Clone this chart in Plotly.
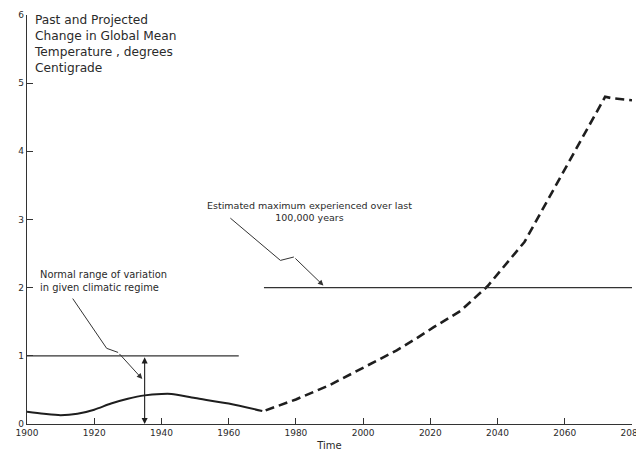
import plotly.graph_objects as go

# ---- data ----
past_years = [1900, 1905, 1910, 1915, 1920, 1925, 1930, 1935, 1940, 1943, 1950, 1960, 1970]
past_temp = [0.18, 0.15, 0.13, 0.15, 0.21, 0.30, 0.37, 0.42, 0.44, 0.44, 0.38, 0.30, 0.19]

proj_years = [1971, 1980, 1990, 2000, 2010, 2016, 2021, 2029, 2037, 2048, 2072, 2074, 2080]
proj_temp = [0.20, 0.36, 0.57, 0.83, 1.08, 1.26, 1.42, 1.66, 2.02, 2.67, 4.80, 4.78, 4.75]

normal_range_years = [1900, 1963]
normal_range_level = [1, 1]
max_100k_years = [1970.5, 2080]
max_100k_level = [2, 2]

range_arrow_year = 1935
range_arrow_bounds = [0, 1]

# leader lines for the two notes
leader1_x = [1913.6, 1923.7, 1927.1]
leader1_y = [1.84, 1.11, 1.05]
leader1_tip = (1934.3, 0.66)
leader2_x = [1960.5, 1975.4, 1979.4]
leader2_y = [3.02, 2.40, 2.45]
leader2_tip = (1988.2, 2.03)

x_ticks = list(range(1900, 2081, 20))
y_ticks = [0, 1, 2, 3, 4, 5, 6]

title_text = "Past and Projected<br>Change in Global Mean<br>Temperature , degrees<br>Centigrade"
note1_text = "Normal range of variation<br>in given climatic regime"
note2_text = "Estimated maximum experienced over last<br>100,000 years"

INK = "#1e1e1e"
FONT = "DejaVu Sans"

fig = go.Figure()

fig.add_trace(go.Scatter(x=past_years, y=past_temp, mode="lines",
                         line=dict(color=INK, width=2, shape="spline", smoothing=0.8),
                         showlegend=False, hoverinfo="skip"))
fig.add_trace(go.Scatter(x=proj_years, y=proj_temp, mode="lines",
                         line=dict(color=INK, width=2.6, dash="9px,5px"),
                         showlegend=False, hoverinfo="skip"))
fig.add_trace(go.Scatter(x=normal_range_years, y=normal_range_level, mode="lines",
                         line=dict(color="#333", width=1.3),
                         showlegend=False, hoverinfo="skip"))
fig.add_trace(go.Scatter(x=max_100k_years, y=max_100k_level, mode="lines",
                         line=dict(color="#333", width=1.3),
                         showlegend=False, hoverinfo="skip"))
fig.add_trace(go.Scatter(x=leader1_x, y=leader1_y, mode="lines",
                         line=dict(color="#333", width=1),
                         showlegend=False, hoverinfo="skip"))
fig.add_trace(go.Scatter(x=leader2_x, y=leader2_y, mode="lines",
                         line=dict(color="#333", width=1),
                         showlegend=False, hoverinfo="skip"))

annotations = [
    # double arrow showing normal range
    dict(x=range_arrow_year, y=range_arrow_bounds[0], ax=range_arrow_year, ay=range_arrow_bounds[1],
         xref="x", yref="y", axref="x", ayref="y", text="", showarrow=True,
         arrowhead=2, startarrowhead=2, arrowside="end+start", arrowsize=1.1, arrowwidth=1.1,
         arrowcolor=INK),
    # leader arrow heads
    dict(x=leader1_tip[0], y=leader1_tip[1], ax=leader1_x[-1], ay=leader1_y[-1],
         xref="x", yref="y", axref="x", ayref="y", text="", showarrow=True,
         arrowhead=2, arrowsize=1.1, arrowwidth=1, arrowcolor="#333"),
    dict(x=leader2_tip[0], y=leader2_tip[1], ax=leader2_x[-1], ay=leader2_y[-1],
         xref="x", yref="y", axref="x", ayref="y", text="", showarrow=True,
         arrowhead=2, arrowsize=1.1, arrowwidth=1, arrowcolor="#333"),
    # texts
    dict(x=0.0, y=1.0, xref="paper", yref="paper", text=title_text, showarrow=False,
         xanchor="left", yanchor="top", align="left", yshift=4, xshift=5,
         font=dict(family=FONT, size=12.2, color="#2a2a2a")),
    dict(x=1903.2, y=2.3, xref="x", yref="y", text=note1_text, showarrow=False,
         xanchor="left", yanchor="top", align="left",
         font=dict(family=FONT, size=9.9, color="#2a2a2a")),
    dict(x=1984.0, y=3.32, xref="x", yref="y", text=note2_text, showarrow=False,
         xanchor="center", yanchor="top", align="center",
         font=dict(family=FONT, size=9.5, color="#2a2a2a")),
]

# the page body adds an 8px offset; margins compensate so the plot lands where the reference has it
fig.update_layout(
    width=644, height=452,
    margin=dict(l=19, r=20, t=7, b=36),
    paper_bgcolor="white", plot_bgcolor="white",
    annotations=annotations,
    font=dict(family=FONT, color="#2a2a2a"),
    xaxis=dict(range=[1900, 2080], tickvals=x_ticks, ticktext=[str(v) for v in x_ticks],
               showline=True, linecolor="#333", linewidth=1.4, ticks="inside", ticklen=6,
               tickcolor="#333", tickwidth=1.2, showgrid=False, zeroline=False, automargin=False,
               tickfont=dict(family=FONT, size=9, color="#2a2a2a"),
               title=dict(text="Time", standoff=4, font=dict(family=FONT, size=10, color="#2a2a2a"))),
    yaxis=dict(range=[0, 6], tickvals=y_ticks, showline=True, linecolor="#333", linewidth=1.4,
               ticks="inside", ticklen=6, tickcolor="#333", tickwidth=1.2, automargin=False,
               showgrid=False, zeroline=False,
               tickfont=dict(family=FONT, size=9, color="#2a2a2a")),
)

fig.write_html("out.html")
